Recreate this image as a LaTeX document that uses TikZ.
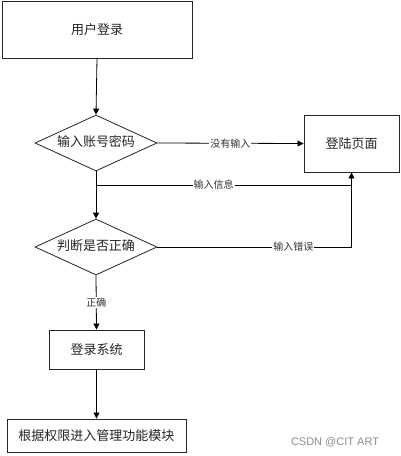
\documentclass[tikz,border=0pt]{standalone}
\usepackage{fontspec}
\newfontfamily\cjk{Noto Sans CJK SC}
\newfontfamily\wmfont{Liberation Sans}
\usetikzlibrary{shapes.geometric,arrows.meta}
\begin{document}
\begin{tikzpicture}[x=1pt,y=-1pt,
  boxst/.style={draw=black!85,line width=0.9pt,inner sep=0pt,font=\cjk\fontsize{13}{15}\selectfont,text=black!85},
  decst/.style={draw=black!85,line width=0.8pt,diamond,aspect=2.2,inner sep=0pt,text height=9pt,text depth=2pt,minimum width=122pt,minimum height=56pt,font=\cjk\fontsize{13}{15}\selectfont,text=black!85},
  arr/.style={draw=black,line width=0.8pt,-{Triangle[length=6pt,width=6pt]}},
  ln/.style={draw=black,line width=0.8pt},
  lbl/.style={fill=white,inner sep=1pt,font=\cjk\fontsize{10}{12}\selectfont,text=black!80}]
\useasboundingbox (0,0) rectangle (401,456);
\fill[white] (0,0) rectangle (401,456);
\node[boxst,minimum width=190pt,minimum height=57pt] (b1) at (97,29.5) {用户登录};
\node[decst] (d1) at (96,143) {输入账号密码};
\node[boxst,minimum width=95pt,minimum height=57pt] (b2) at (351.5,143.5) {登陆页面};
\node[decst] (d2) at (96,247) {判断是否正确};
\node[boxst,minimum width=95pt,minimum height=39pt] (b3) at (96.5,349.5) {登录系统};
\node[boxst,minimum width=179pt,minimum height=33pt] (b4) at (96.5,435.5) {根据权限进入管理功能模块};
\coordinate (j1) at (96,185);
\coordinate (j2) at (351.5,185);
\draw[arr] (b1.south) -- (d1.north);
\draw[arr] (d1.east) -- node[lbl,pos=0.5] {没有输入} (b2.west);
\draw[arr] (d1.south) -- (d2.north);
\draw[ln] (j1) -- node[lbl,pos=0.46] {输入信息} (j2);
\draw[ln] (d2.east) -- node[lbl,pos=0.7] {输入错误} (d2.east -| j2) -- (j2);
\draw[arr] (j2) -- (b2.south);
\draw[arr] (d2.south) -- node[lbl,pos=0.5] {正确} (b3.north);
\draw[arr] (b3.south) -- (b4.north);
\node[font=\wmfont\fontsize{11}{13}\selectfont,text=black!45,inner sep=0pt] (wm) at (335,442) {CSDN @CIT ART};
\end{tikzpicture}
\end{document}
